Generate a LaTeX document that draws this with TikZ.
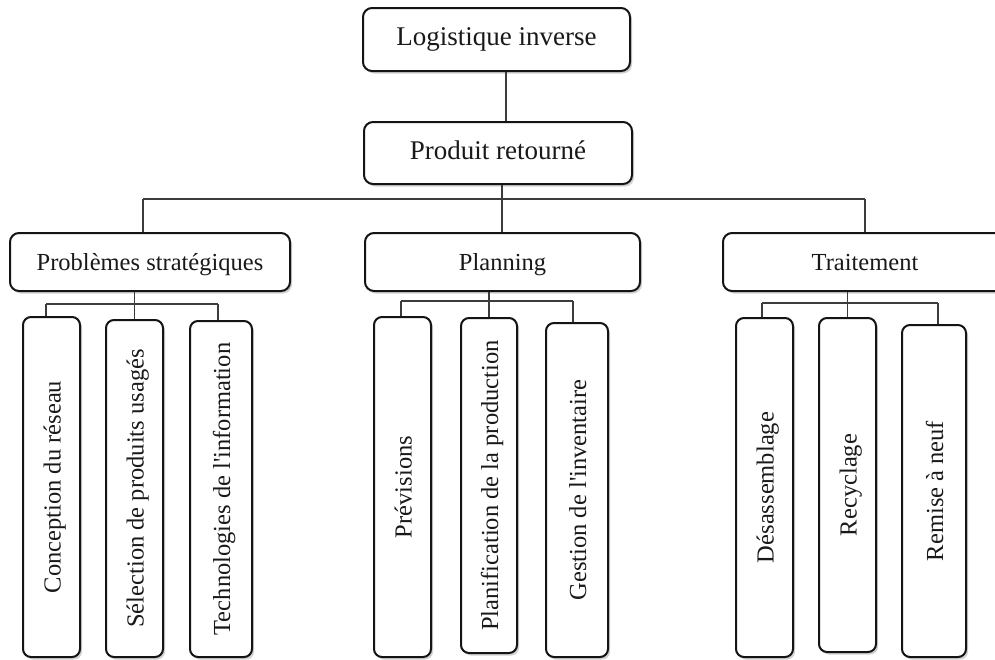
\documentclass[tikz,border=0pt]{standalone}
\usepackage{fontspec}
\setmainfont{Liberation Serif}
\usetikzlibrary{shadows}
\definecolor{boxline}{RGB}{20,20,20}
\definecolor{linkgray}{RGB}{60,60,60}
\definecolor{labeltext}{RGB}{25,25,25}

\tikzset{
  softshadow/.style={drop shadow={shadow xshift=2pt,shadow yshift=-2.5pt,opacity=0.18,fill=black}},
  topbox/.style={draw=boxline,line width=2pt,rounded corners=9pt,fill=white,softshadow,
    inner sep=0pt,text=labeltext,text height=18pt,text depth=6pt,font=\fontsize{27}{32}\selectfont},
  headbox/.style={topbox,text height=19pt,text depth=3pt,font=\fontsize{24.5}{29}\selectfont},
  leafbox/.style={headbox,rotate=90,rounded corners=8pt,text height=20pt,text depth=2pt},
  link/.style={draw=linkgray,line width=1.2pt}
}

\begin{document}
\begin{tikzpicture}[x=1pt,y=-1pt]
  \clip (0,0) rectangle (995,659);

  % Top of the tree
  \node[topbox,minimum width=267,minimum height=63] (logi) at (496.5,39.5) {Logistique inverse};
  \node[topbox,minimum width=268,minimum height=62] (retour) at (498,153) {Produit retourné};

  % Second level
  \node[headbox,minimum width=280,minimum height=58] (strat) at (150,262) {Problèmes stratégiques};
  \node[headbox,minimum width=275,minimum height=58] (plan) at (502.5,262) {Planning};
  \node[headbox,minimum width=284,minimum height=58] (trait) at (865,262) {Traitement};

  % Leaves under Problemes strategiques
  \node[leafbox,minimum width=340,minimum height=57] (reseau) at (51.5,487) {Conception du réseau};
  \node[leafbox,minimum width=337,minimum height=57] (select) at (134.5,488.5) {Sélection de produits usagés};
  \node[leafbox,minimum width=336,minimum height=62] (techno) at (221,489) {Technologies de l\textquotesingle information};

  % Leaves under Planning
  \node[leafbox,minimum width=340,minimum height=57] (prevs) at (402.5,487) {Prévisions};
  \node[leafbox,minimum width=335,minimum height=56] (prod) at (489,485.5) {Planification de la production};
  \node[leafbox,minimum width=334,minimum height=62] (invent) at (577,490) {Gestion de l\textquotesingle inventaire};

  % Leaves under Traitement
  \node[leafbox,minimum width=339,minimum height=57] (desass) at (764.5,487.5) {Désassemblage};
  \node[leafbox,minimum width=334,minimum height=57] (recyc) at (847.5,485) {Recyclage};
  \node[leafbox,minimum width=332,minimum height=64] (remise) at (934,491) {Remise à neuf};

  % Bus points
  \coordinate (stem) at (506,100);
  \coordinate (busA) at (143,199);
  \coordinate (busM) at (502,199);
  \coordinate (busB) at (865,199);
  \coordinate (sA) at (46,304);
  \coordinate (sB) at (218,304);
  \coordinate (pA) at (401,301);
  \coordinate (pB) at (573,301);
  \coordinate (tA) at (762,303);
  \coordinate (tB) at (938,303);

  % Connectors
  \draw[link] (logi.south -| stem) -- (retour.north -| stem);
  \draw[link] (busM |- retour.south) -- (busM |- plan.north);
  \draw[link] (busA) -- (busB);
  \draw[link] (busA) -- (busA |- strat.north);
  \draw[link] (busB) -- (busB |- trait.north);

  \draw[link] (strat.south -| select.east) -- (select.east);
  \draw[link] (sA) -- (sB);
  \draw[link] (sA) -- (sA |- reseau.east);
  \draw[link] (sB) -- (sB |- techno.east);

  \draw[link] (plan.south -| prod.east) -- (prod.east);
  \draw[link] (pA) -- (pB);
  \draw[link] (pA) -- (pA |- prevs.east);
  \draw[link] (pB) -- (pB |- invent.east);

  \draw[link] (trait.south -| recyc.east) -- (recyc.east);
  \draw[link] (tA) -- (tB);
  \draw[link] (tA) -- (tA |- desass.east);
  \draw[link] (tB) -- (tB |- remise.east);
\end{tikzpicture}
\end{document}
